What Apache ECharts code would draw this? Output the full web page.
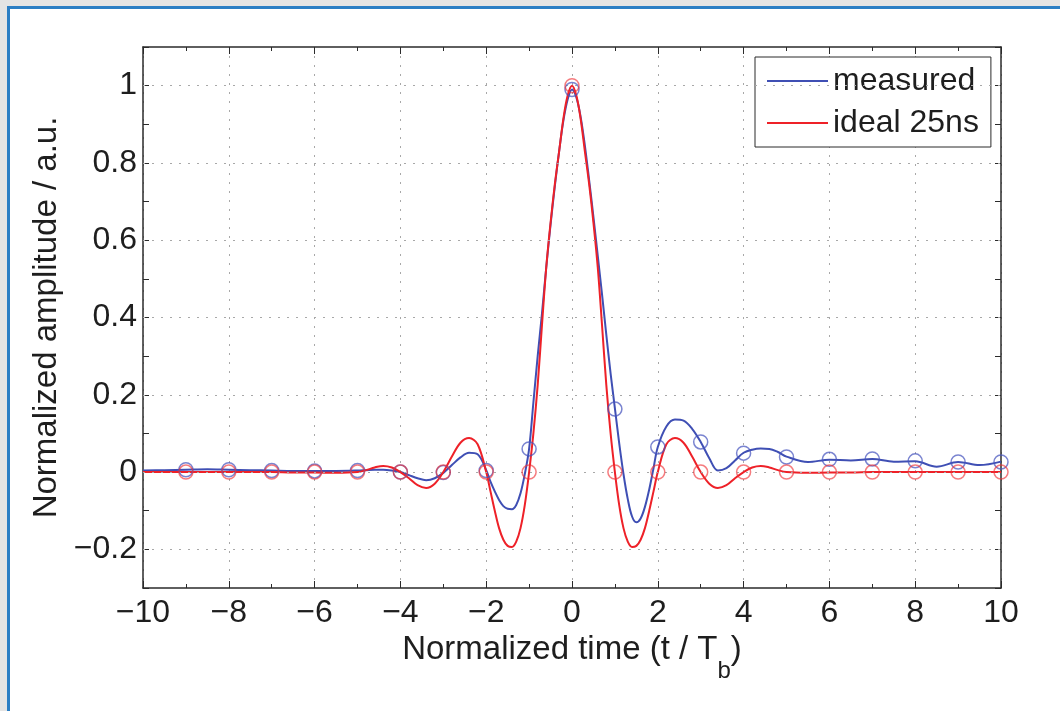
<!DOCTYPE html>
<html>
<head>
<meta charset="utf-8">
<script src="https://cdn.jsdelivr.net/npm/echarts@6/dist/echarts.min.js"></script>
<style>
  html, body { margin: 0; padding: 0; width: 1060px; height: 711px; overflow: hidden; background: #e4e4e4; }
  #frame { position: absolute; left: 7px; top: 6px; width: 1100px; height: 800px; background: #fff;
           border-left: 3px solid #2b7ec4; border-top: 3px solid #2b7ec4; }
  #chart { position: absolute; left: 0; top: 0; width: 1060px; height: 711px; }
</style>
</head>
<body>
<div id="frame"></div>
<div id="chart"></div>
<script>
// ---- data ----
const tCurve = [
  -10, -9.5, -9, -8.5, -8, -7.5, -7, -6.5, -6, -5.5,
  -5, -4.8, -4.6, -4.4, -4.2, -4, -3.8, -3.6, -3.4, -3.2, -3, -2.8, -2.6, -2.4, -2.2,
  -2, -1.9, -1.8, -1.7, -1.6, -1.5, -1.4, -1.3, -1.2, -1.1, -1, -0.9, -0.8, -0.7, -0.6, -0.5, -0.4, -0.3, -0.2, -0.1,
  0, 0.1, 0.2, 0.3, 0.4, 0.5, 0.6, 0.7, 0.8, 0.9, 1, 1.1, 1.2, 1.3, 1.4, 1.5, 1.6, 1.7, 1.8, 1.9, 2,
  2.2, 2.4, 2.6, 2.8, 3, 3.2, 3.4, 3.6, 3.8, 4, 4.2, 4.4, 4.6, 4.8, 5,
  5.5, 6, 6.5, 7, 7.5, 8, 8.5, 9, 9.5, 10
];
const measuredCurve = [
  0.004, 0.005, 0.006, 0.007, 0.006, 0.005, 0.004, 0.003, 0.003, 0.003,
  0.004, 0.005, 0.006, 0.006, 0.004, 0.0, -0.008, -0.016, -0.021, -0.016, -0.002, 0.018, 0.038, 0.05, 0.046,
  0.005, -0.025, -0.05, -0.072, -0.088, -0.095, -0.096, -0.085, -0.055, -0.005, 0.06, 0.18, 0.30, 0.41, 0.53, 0.64, 0.74, 0.83, 0.91, 0.965,
  0.99, 0.97, 0.92, 0.845, 0.755, 0.66, 0.56, 0.46, 0.355, 0.255, 0.165, 0.075, -0.005, -0.07, -0.115, -0.13, -0.12, -0.09, -0.045, 0.01, 0.065,
  0.118, 0.136, 0.133, 0.112, 0.078, 0.036, 0.004, 0.01, 0.03, 0.05, 0.058, 0.061, 0.06, 0.052, 0.04,
  0.026, 0.032, 0.03, 0.034, 0.027, 0.028, 0.014, 0.026, 0.018, 0.027
];
const idealCurve = [
  0, 0, 0, 0, 0, 0, 0, -0.001, -0.001, -0.002,
  0, 0.005, 0.012, 0.016, 0.012, 0, -0.016, -0.034, -0.041, -0.03, 0, 0.04, 0.076, 0.088, 0.072,
  0, -0.05, -0.1, -0.145, -0.175, -0.191, -0.194, -0.18, -0.145, -0.085, 0, 0.1, 0.225, 0.38, 0.53, 0.645, 0.745, 0.83, 0.915, 0.975,
  1.0, 0.975, 0.915, 0.83, 0.745, 0.645, 0.53, 0.38, 0.225, 0.1, 0, -0.085, -0.145, -0.18, -0.194, -0.191, -0.175, -0.145, -0.1, -0.05, 0,
  0.072, 0.088, 0.076, 0.04, 0, -0.03, -0.041, -0.034, -0.016, 0, 0.012, 0.016, 0.012, 0.005, 0,
  -0.002, -0.001, -0.001, 0, 0, 0, 0, 0, 0, 0
];
const tSamples = [-9, -8, -7, -6, -5, -4, -3, -2, -1, 0, 1, 2, 3, 4, 5, 6, 7, 8, 9, 10];
const measuredSamples = [0.006, 0.006, 0.004, 0.003, 0.004, 0.0, -0.001, 0.004, 0.06, 0.99, 0.163, 0.065, 0.078, 0.049, 0.039, 0.033, 0.034, 0.029, 0.026, 0.026];
const idealSamples = [0, 0, 0, 0, 0, 0, 0, 0, 0, 1, 0, 0, 0, 0, 0, 0, 0, 0, 0, 0];
const yGridTicks = [-0.2, 0, 0.2, 0.4, 0.6, 0.8, 1];
const seriesNames = ['measured', 'ideal 25ns'];

// ---- chart ----
const FONT = "'Liberation Sans', Arial, Helvetica, sans-serif";
const BLUE = '#3f4fb4';
const RED = '#ee2128';
const AXIS = '#2b2b2b';
const TXT = '#1e1e1e';
const pair = (xs, ys) => xs.map((x, i) => [x, ys[i]]);
const minus = s => String(s).replace('-', '\u2212');

const tickCommon = { inside: true, length: 7, lineStyle: { color: AXIS, width: 1 } };
const minorCommon = { show: true, splitNumber: 2, length: 4, lineStyle: { color: AXIS, width: 1 } };
const axisLineCommon = { show: true, onZero: false, lineStyle: { color: AXIS, width: 1.5 } };
const gridDash = { type: [2, 7], color: '#a8a8a8', width: 1 };

const chart = echarts.init(document.getElementById('chart'), null, { renderer: 'canvas' });
chart.setOption({
  animation: false,
  backgroundColor: 'transparent',
  grid: { left: 143, top: 47, width: 858, height: 541, containLabel: false },
  textStyle: { fontFamily: FONT },
  legend: {
    data: seriesNames,
    orient: 'vertical',
    left: 755, top: 57,
    padding: [8, 12, 8, 12],
    itemGap: 10,
    itemWidth: 61, itemHeight: 2,
    icon: 'rect',
    backgroundColor: '#fff',
    borderColor: AXIS, borderWidth: 1, borderRadius: 0,
    textStyle: { fontSize: 32, color: TXT, fontFamily: FONT }
  },
  xAxis: [
    {
      type: 'value', min: -10, max: 10, interval: 2, position: 'bottom',
      axisLine: axisLineCommon, axisTick: tickCommon, minorTick: minorCommon,
      splitLine: { show: true, lineStyle: gridDash },
      axisLabel: { fontSize: 32, color: TXT, margin: 9, fontFamily: FONT, formatter: v => minus(v) },
      name: '{m|Normalized time (t / T}{b|b}{m|)}',
      nameLocation: 'middle', nameGap: 40,
      nameTextStyle: {
        rich: {
          m: { fontSize: 33, lineHeight: 33, color: TXT, fontFamily: FONT, verticalAlign: 'top' },
          b: { fontSize: 24, lineHeight: 24, color: TXT, fontFamily: FONT, verticalAlign: 'top', padding: [25, 0, 0, 0] }
        }
      }
    },
    {
      type: 'value', min: -10, max: 10, interval: 2, position: 'top',
      axisLine: axisLineCommon, axisTick: tickCommon, minorTick: minorCommon,
      splitLine: { show: false }, axisLabel: { show: false }
    }
  ],
  yAxis: [
    {
      type: 'value', min: -0.3, max: 1.1, interval: 0.1, position: 'left',
      axisLine: axisLineCommon, axisTick: { inside: true, length: 6, lineStyle: { color: AXIS, width: 1 } },
      splitLine: { show: false },
      axisLabel: {
        fontSize: 32, color: TXT, margin: 6, fontFamily: FONT,
        formatter: v => { const k = Math.round(v * 10); return (k % 2 === 0) ? minus(k / 10) : ''; }
      },
      name: 'Normalized amplitude / a.u.',
      nameLocation: 'middle', nameGap: 77,
      nameTextStyle: { fontSize: 33, color: TXT, fontFamily: FONT }
    },
    {
      type: 'value', min: -0.3, max: 1.1, interval: 0.1, position: 'right',
      axisLine: axisLineCommon, axisTick: { inside: true, length: 6, lineStyle: { color: AXIS, width: 1 } },
      splitLine: { show: false }, axisLabel: { show: false }
    }
  ],
  series: [
    {
      name: 'hgrid', type: 'line', data: [], z: 0, silent: true,
      markLine: {
        silent: true, symbol: ['none', 'none'], label: { show: false },
        lineStyle: gridDash, animation: false,
        data: yGridTicks.map(v => ({ yAxis: v }))
      }
    },
    {
      name: seriesNames[0], type: 'line', data: pair(tCurve, measuredCurve),
      smooth: 0.35, showSymbol: false, symbol: 'none', z: 3,
      lineStyle: { color: BLUE, width: 2 }, itemStyle: { color: BLUE }
    },
    {
      name: seriesNames[1], type: 'line', data: pair(tCurve, idealCurve),
      smooth: 0.35, showSymbol: false, symbol: 'none', z: 4,
      lineStyle: { color: RED, width: 2 }, itemStyle: { color: RED }
    },
    {
      name: 'measured samples', type: 'scatter', data: pair(tSamples, measuredSamples),
      symbol: 'circle', symbolSize: 14, z: 5,
      itemStyle: { color: 'rgba(0,0,0,0)', borderColor: 'rgba(70,85,190,0.9)', borderWidth: 1.5 }
    },
    {
      name: 'ideal samples', type: 'scatter', data: pair(tSamples, idealSamples),
      symbol: 'circle', symbolSize: 14, z: 6,
      itemStyle: { color: 'rgba(0,0,0,0)', borderColor: 'rgba(240,50,55,0.8)', borderWidth: 1.5 }
    }
  ]
});
</script>
</body>
</html>
